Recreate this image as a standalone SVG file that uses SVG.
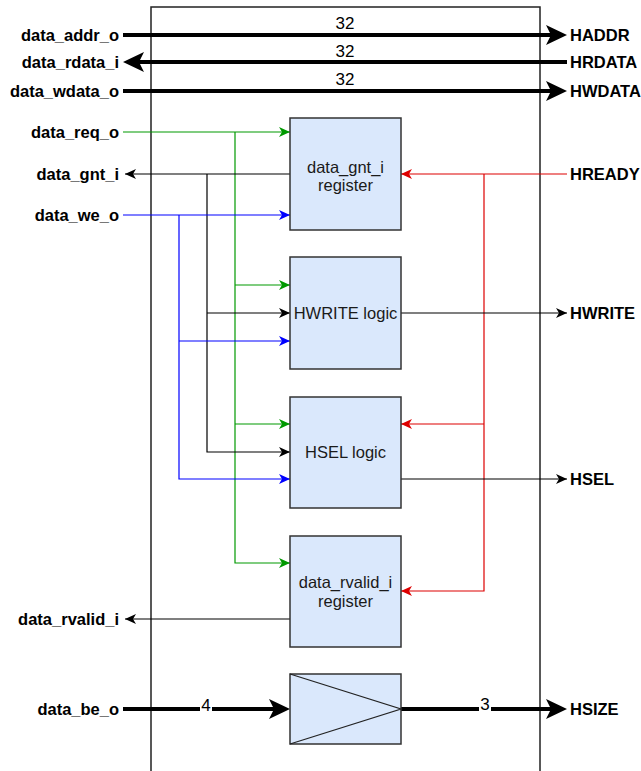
<svg xmlns="http://www.w3.org/2000/svg" width="641" height="771" viewBox="0 0 641 771">
<style>
.lbl{font-family:"Liberation Sans",Arial,sans-serif;font-size:16.5px;font-weight:bold;fill:#000}
.l{text-anchor:end}
.txt{font-family:"Liberation Sans",Arial,sans-serif;font-size:16.5px;fill:#1a1a1a;text-anchor:middle}
.num{font-family:"Liberation Sans",Arial,sans-serif;font-size:17px;fill:#000;text-anchor:middle}
.box{fill:#dae8fc;stroke:#333;stroke-width:1.5}
.bus{fill:none;stroke:#000;stroke-width:4}
.k{fill:none;stroke:#000;stroke-width:1.2}
.g{fill:none;stroke:#009900;stroke-width:1.2}
.b{fill:none;stroke:#0000ff;stroke-width:1.2}
.r{fill:none;stroke:#dd0000;stroke-width:1.2}
</style>
<defs>
<marker id="mT" markerUnits="userSpaceOnUse" markerWidth="22" markerHeight="21" refX="14" refY="10" orient="auto"><path d="M0,0 L21,10 L0,20 L5,10 z" fill="#000"/></marker>
<marker id="mK" markerUnits="userSpaceOnUse" markerWidth="12" markerHeight="11" refX="11" refY="5" orient="auto"><path d="M0,0 L11,5 L0,10 L3,5 z" fill="#000"/></marker>
<marker id="mG" markerUnits="userSpaceOnUse" markerWidth="12" markerHeight="11" refX="11" refY="5" orient="auto"><path d="M0,0 L11,5 L0,10 L3,5 z" fill="#009900"/></marker>
<marker id="mB" markerUnits="userSpaceOnUse" markerWidth="12" markerHeight="11" refX="11" refY="5" orient="auto"><path d="M0,0 L11,5 L0,10 L3,5 z" fill="#0000ff"/></marker>
<marker id="mR" markerUnits="userSpaceOnUse" markerWidth="12" markerHeight="11" refX="11" refY="5" orient="auto"><path d="M0,0 L11,5 L0,10 L3,5 z" fill="#dd0000"/></marker>
</defs>
<rect width="641" height="771" fill="#fff"/>
<g id="outer"><rect x="151" y="7" width="389" height="800" fill="none" stroke="#222" stroke-width="1.5"/></g>

<g id="connectors">
<path class="bus" d="M123,35 H560" marker-end="url(#mT)"/>
<path class="bus" d="M567,62 H130" marker-end="url(#mT)"/>
<path class="bus" d="M123,91 H560" marker-end="url(#mT)"/>
<text class="num" x="345" y="29">32</text>
<text class="num" x="345" y="57">32</text>
<text class="num" x="345" y="85">32</text>

<path class="g" d="M123,132 H290" marker-end="url(#mG)"/>
<path class="g" d="M235,132 V563 H290" marker-end="url(#mG)"/>
<path class="g" d="M235,285 H290" marker-end="url(#mG)"/>
<path class="g" d="M235,424 H290" marker-end="url(#mG)"/>

<path class="k" d="M290,174 H125" marker-end="url(#mK)"/>
<path class="k" d="M207,174 V452 H290" marker-end="url(#mK)"/>
<path class="k" d="M207,313 H290" marker-end="url(#mK)"/>

<path class="b" d="M123,215 H290" marker-end="url(#mB)"/>
<path class="b" d="M179,215 V479 H290" marker-end="url(#mB)"/>
<path class="b" d="M179,341 H290" marker-end="url(#mB)"/>

<path class="r" d="M567,174 H401" marker-end="url(#mR)"/>
<path class="r" d="M484,174 V591 H401" marker-end="url(#mR)"/>
<path class="r" d="M484,424 H401" marker-end="url(#mR)"/>

<path class="k" d="M401,313 H567" marker-end="url(#mK)"/>
<path class="k" d="M401,479 H567" marker-end="url(#mK)"/>
<path class="k" d="M290,619 H125" marker-end="url(#mK)"/>

<path class="bus" d="M123,709 H283" marker-end="url(#mT)"/>
<path class="bus" d="M401,709 H560" marker-end="url(#mT)"/>
<rect x="200" y="697" width="12" height="16" fill="#fff"/>
<text class="num" x="206" y="711">4</text>
<rect x="479" y="696" width="12" height="16" fill="#fff"/>
<text class="num" x="485" y="710">3</text>
</g>

<g id="n-gnt-reg"><rect class="box" x="290" y="118" width="111" height="112"/><text class="txt" x="345.5" y="173">data_gnt_i</text><text class="txt" x="345.5" y="191">register</text></g>
<g id="n-hwrite"><rect class="box" x="290" y="257" width="111" height="112"/><text class="txt" x="345.5" y="319">HWRITE logic</text></g>
<g id="n-hsel"><rect class="box" x="290" y="397" width="111" height="111"/><text class="txt" x="345.5" y="458">HSEL logic</text></g>
<g id="n-rvalid-reg"><rect class="box" x="290" y="536" width="111" height="111"/><text class="txt" x="345.5" y="588">data_rvalid_i</text><text class="txt" x="345.5" y="607">register</text></g>
<g id="n-size"><rect class="box" x="290" y="674" width="111" height="70"/><path d="M290,674 L401,709 L290,744" fill="none" stroke="#222" stroke-width="1.2"/></g>

<g id="labels-left">
<text class="lbl l" x="119" y="41">data_addr_o</text>
<text class="lbl l" x="119" y="68">data_rdata_i</text>
<text class="lbl l" x="119" y="97">data_wdata_o</text>
<text class="lbl l" x="119" y="138">data_req_o</text>
<text class="lbl l" x="119" y="180">data_gnt_i</text>
<text class="lbl l" x="119" y="221">data_we_o</text>
<text class="lbl l" x="119" y="625">data_rvalid_i</text>
<text class="lbl l" x="119" y="715">data_be_o</text>
</g>
<g id="labels-right">
<text class="lbl" x="570" y="41">HADDR</text>
<text class="lbl" x="570" y="68">HRDATA</text>
<text class="lbl" x="570" y="97">HWDATA</text>
<text class="lbl" x="570" y="180">HREADY</text>
<text class="lbl" x="570" y="319">HWRITE</text>
<text class="lbl" x="570" y="485">HSEL</text>
<text class="lbl" x="570" y="715">HSIZE</text>
</g>
</svg>
